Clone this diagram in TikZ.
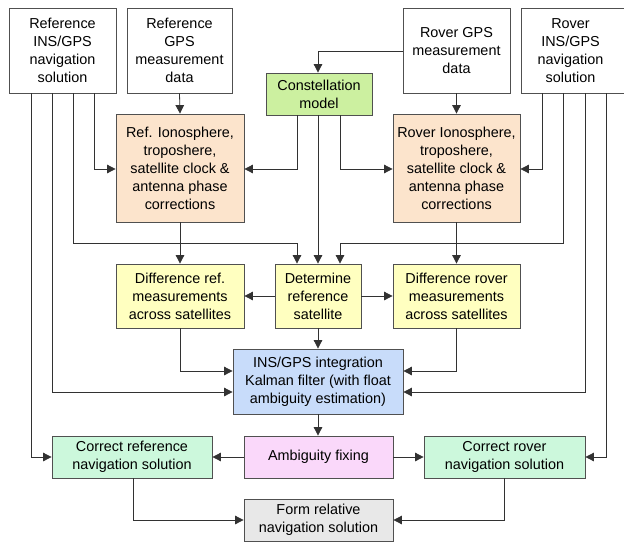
\documentclass[tikz,border=0pt]{standalone}
\usepackage{fontspec}
\setmainfont{Liberation Sans}
\usetikzlibrary{arrows.meta}
\definecolor{corange}{RGB}{252,228,204}
\definecolor{cgreen}{RGB}{204,240,160}
\definecolor{cyellow}{RGB}{255,255,192}
\definecolor{cblue}{RGB}{200,220,250}
\definecolor{cpink}{RGB}{250,216,250}
\definecolor{cmint}{RGB}{204,248,220}
\definecolor{cgrey}{RGB}{232,232,232}
\definecolor{cline}{RGB}{50,50,50}
\definecolor{cborder}{RGB}{80,80,80}
\begin{document}
\begin{tikzpicture}[x=1pt,y=-1pt,
  box/.style={draw=cborder,line width=0.8pt,rectangle,inner sep=0pt,align=center,
    font=\fontsize{14.4}{18}\selectfont},
  conn/.style={draw=cline,line width=0.8pt,-{Triangle[length=8.5pt,width=8.5pt]}},
  plain/.style={draw=cline,line width=0.8pt}]
\useasboundingbox (0,0) rectangle (624,541);
\node[box,fill=white,minimum width=107pt,minimum height=85pt] (refins) at (62.5,50.5) {Reference\\INS/GPS\\navigation\\solution};
\node[box,fill=white,minimum width=105pt,minimum height=85pt] (refgps) at (179.5,50.5) {Reference\\GPS\\measurement\\data};
\node[box,fill=white,minimum width=107pt,minimum height=85pt] (rovgps) at (456.5,50.5) {Rover GPS\\measurement\\data};
\node[box,fill=white,minimum width=107pt,minimum height=85pt,text width=97pt] (rovins) at (574.5,50.5) {\hspace*{-8pt}Rover\\\hspace*{-8pt}INS/GPS\\\hspace*{-8pt}navigation\\\hspace*{-8pt}solution};
\node[box,fill=cgreen,minimum width=106pt,minimum height=42pt] (const) at (319,94) {Constellation\\model};
\node[box,fill=corange,minimum width=128pt,minimum height=108pt] (refiono) at (180,168) {Ref. Ionosphere,\\troposhere,\\satellite clock \&\\antenna phase\\corrections};
\node[box,fill=corange,minimum width=127pt,minimum height=108pt] (roviono) at (456.5,168) {Rover Ionosphere,\\troposhere,\\satellite clock \&\\antenna phase\\corrections};
\node[box,fill=cyellow,minimum width=128pt,minimum height=64pt] (diffref) at (180,296) {Difference ref.\\measurements\\across satellites};
\node[box,fill=cyellow,minimum width=86pt,minimum height=64pt] (det) at (318,296) {Determine\\reference\\satellite};
\node[box,fill=cyellow,minimum width=127pt,minimum height=64pt] (diffrov) at (456.5,296) {Difference rover\\measurements\\across satellites};
\node[box,fill=cblue,minimum width=170pt,minimum height=65pt] (ins) at (318,381.5) {INS/GPS integration\\Kalman filter (with float\\ambiguity estimation)};
\node[box,fill=cpink,minimum width=149pt,minimum height=42pt] (amb) at (318.5,457) {Ambiguity fixing};
\node[box,fill=cmint,minimum width=160pt,minimum height=42pt] (corref) at (132,457) {Correct reference\\navigation solution};
\node[box,fill=cmint,minimum width=161pt,minimum height=42pt] (corrov) at (504.5,457) {Correct rover\\navigation solution};
\node[box,fill=cgrey,minimum width=149pt,minimum height=42pt] (form) at (318.5,520) {Form relative\\navigation solution};
% top inputs
\draw[conn] (refgps.south) -- (refiono.north);
\draw[conn] (rovgps.south) -- (roviono.north);
\draw[conn] (rovgps.west |- 0,51) -- (318,51) -- (const.north -| 318,0);
% reference INS lines
\draw[conn] (refins.south -| 94,0) -- (94,169) -- (refiono.west |- 0,169);
\draw[conn] (refins.south -| 73,0) -- (73,243) -- (297,243) -- (det.north -| 297,0);
\draw[conn] (refins.south -| 52,0) -- (52,392) -- (ins.west |- 0,392);
\draw[conn] (refins.south -| 31,0) -- (31,457) -- (corref.west);
% constellation lines
\draw[conn] (const.south -| 297,0) -- (297,169) -- (refiono.east |- 0,169);
\draw[conn] (const.south -| 318,0) -- (det.north);
\draw[conn] (const.south -| 340,0) -- (340,169) -- (roviono.west |- 0,169);
% rover INS lines
\draw[conn] (rovins.south -| 542,0) -- (542,169) -- (roviono.east |- 0,169);
\draw[conn] (rovins.south -| 563,0) -- (563,243) -- (340,243) -- (det.north -| 340,0);
\draw[conn] (rovins.south -| 585,0) -- (585,392) -- (ins.east |- 0,392);
\draw[conn] (rovins.south -| 606,0) -- (606,457) -- (corrov.east);
% middle
\draw[conn] (refiono.south) -- (diffref.north);
\draw[conn] (roviono.south) -- (diffrov.north);
\draw[conn] (det.west) -- (diffref.east);
\draw[conn] (det.east) -- (diffrov.west);
\draw[conn] (det.south) -- (ins.north);
\draw[conn] (diffref.south) -- (180,371) -- (ins.west |- 0,371);
\draw[conn] (diffrov.south) -- (456.5,371) -- (ins.east |- 0,371);
\draw[conn] (ins.south) -- (amb.north -| ins.south);
\draw[conn] (amb.west) -- (corref.east);
\draw[conn] (amb.east) -- (corrov.west);
\draw[conn] (corref.south -| 133,0) -- (133,520) -- (form.west);
\draw[conn] (corrov.south -| 504,0) -- (504,520) -- (form.east);
\end{tikzpicture}
\end{document}
